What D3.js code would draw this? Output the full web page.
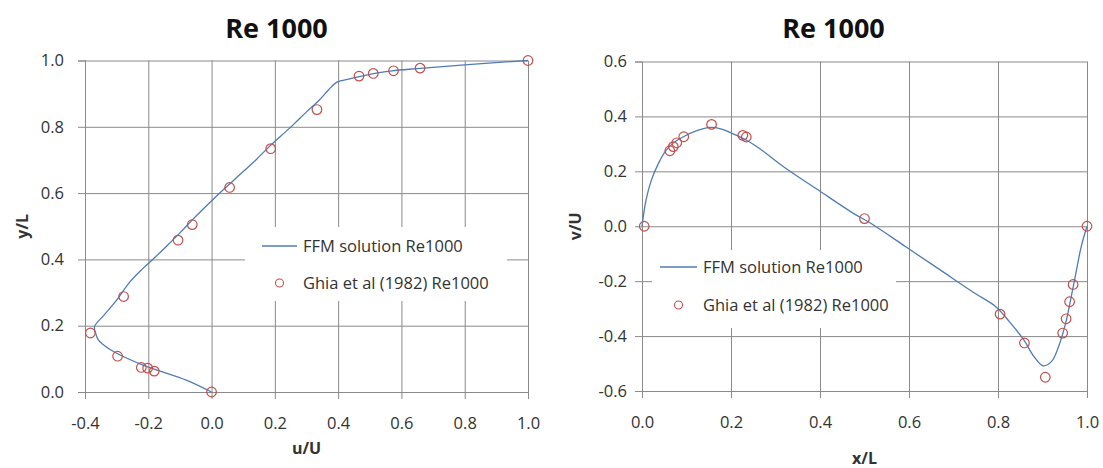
<!DOCTYPE html>
<html><head><meta charset="utf-8">
<script src="https://cdn.jsdelivr.net/npm/d3@7"></script>
<style>
html,body{margin:0;padding:0;background:#fff;}
svg{display:block;font-family:"Open Sans",sans-serif;}
</style></head>
<body>
<svg id="chart" width="1103" height="468"></svg>
<script>
// ---- Data ----
const chartTitles = ["Re 1000", "Re 1000"];
const legendLabels = ["FFM solution Re1000", "Ghia et al (1982) Re1000"];
const leftAxisTitles = ["u/U", "y/L"];
const rightAxisTitles = ["x/L", "v/U"];

const leftXTicks = [-0.4, -0.2, 0.0, 0.2, 0.4, 0.6, 0.8, 1.0];
const leftYTicks = [0.0, 0.2, 0.4, 0.6, 0.8, 1.0];
const rightXTicks = [0.0, 0.2, 0.4, 0.6, 0.8, 1.0];
const rightYTicks = [-0.6, -0.4, -0.2, 0.0, 0.2, 0.4, 0.6];

// Left: u/U (x) vs y/L (y) along vertical centerline
const leftFFM = [
  [0.0, 0.0], [-0.08, 0.036], [-0.172, 0.066], [-0.217, 0.081], [-0.31, 0.122],
  [-0.341, 0.142], [-0.358, 0.157], [-0.366, 0.177], [-0.37, 0.197],
  [-0.34, 0.232], [-0.30, 0.277], [-0.26, 0.33], [-0.22, 0.37], [-0.18, 0.405],
  [-0.14, 0.442], [-0.10, 0.48], [-0.06, 0.52], [-0.02, 0.558], [0.02, 0.595],
  [0.06, 0.63], [0.10, 0.665], [0.14, 0.70], [0.18, 0.738], [0.22, 0.773],
  [0.26, 0.808], [0.30, 0.845], [0.34, 0.88], [0.37, 0.912], [0.395, 0.934],
  [0.43, 0.943], [0.47, 0.952], [0.52, 0.962], [0.57, 0.969], [0.66, 0.976],
  [0.80, 0.987], [1.0, 1.0]
];
const leftGhia = [
  [1.0, 1.0], [0.659, 0.977], [0.575, 0.969], [0.511, 0.961], [0.466, 0.953],
  [0.333, 0.852], [0.187, 0.734], [0.057, 0.617], [-0.061, 0.505], [-0.106, 0.458],
  [-0.278, 0.288], [-0.383, 0.178], [-0.297, 0.108], [-0.222, 0.074],
  [-0.202, 0.072], [-0.181, 0.063], [0.0, 0.0]
];

// Right: x/L (x) vs v/U (y) along horizontal centerline
const rightFFM = [
  [0.0, 0.0], [0.009, 0.095], [0.021, 0.168], [0.037, 0.229], [0.052, 0.272],
  [0.068, 0.300], [0.091, 0.324], [0.123, 0.348], [0.154, 0.360], [0.177, 0.355],
  [0.200, 0.340], [0.232, 0.316], [0.260, 0.288], [0.318, 0.217], [0.396, 0.132],
  [0.475, 0.047], [0.514, 0.011], [0.592, -0.074], [0.670, -0.159], [0.748, -0.244],
  [0.795, -0.293], [0.826, -0.348], [0.858, -0.414], [0.881, -0.475], [0.901, -0.508],
  [0.920, -0.493], [0.936, -0.439], [0.952, -0.353], [0.963, -0.269], [0.975, -0.171],
  [0.987, -0.074], [1.0, 0.0]
];
const rightGhia = [
  [0.005, 0.0], [0.0625, 0.275], [0.0703, 0.290], [0.0781, 0.304], [0.0938, 0.326],
  [0.1563, 0.371], [0.2266, 0.331], [0.2344, 0.325], [0.5, 0.028], [0.8047, -0.32],
  [0.8594, -0.425], [0.9063, -0.55], [0.9453, -0.389], [0.9531, -0.337],
  [0.9609, -0.275], [0.9688, -0.212], [1.0, 0.0]
];

// ---- Drawing ----
const svg = d3.select("#chart");
const lineColor = "#4f7db3";
const markColor = "#c0504d";
const gridColor = "#8a8a8a";
const textColor = "#333";
const fmt = d => d.toFixed(1);

function panel(cfg) {
  const g = svg.append("g");
  const x = d3.scaleLinear().domain(cfg.xDomain).range([cfg.x0, cfg.x1]);
  const y = d3.scaleLinear().domain(cfg.yDomain).range([cfg.y0, cfg.y1]);
  const H = cfg.y0 - cfg.y1, W = cfg.x1 - cfg.x0;

  // grid (x)
  const gx = g.append("g").attr("transform", `translate(0,${cfg.y0})`)
    .call(d3.axisBottom(x).tickValues(cfg.xTicks).tickSize(-H).tickFormat(""));
  gx.select(".domain").remove();
  gx.selectAll("line").attr("stroke", gridColor).attr("stroke-width", 1);
  // ticks + labels (x)
  const lx = g.append("g").attr("transform", `translate(0,${cfg.y0})`)
    .call(d3.axisBottom(x).tickValues(cfg.xTicks).tickSize(7).tickPadding(18).tickFormat(fmt));
  lx.select(".domain").attr("stroke", gridColor);
  lx.selectAll("line").attr("stroke", gridColor);
  lx.selectAll("text").attr("fill", textColor).style("font-size", "16.5px")
    .style("font-family", "'Open Sans',sans-serif");

  // grid (y)
  const gy = g.append("g").attr("transform", `translate(${cfg.x0},0)`)
    .call(d3.axisLeft(y).tickValues(cfg.yTicks).tickSize(-W).tickFormat(""));
  gy.select(".domain").remove();
  gy.selectAll("line").attr("stroke", gridColor).attr("stroke-width", 1);
  const ly = g.append("g").attr("transform", `translate(${cfg.x0},0)`)
    .call(d3.axisLeft(y).tickValues(cfg.yTicks).tickSize(7).tickPadding(cfg.yPad).tickFormat(fmt));
  ly.select(".domain").attr("stroke", gridColor);
  ly.selectAll("line").attr("stroke", gridColor);
  ly.selectAll("text").attr("fill", textColor).style("font-size", "16.5px")
    .style("font-family", "'Open Sans',sans-serif");

  // title
  g.append("text").attr("x", (cfg.x0 + cfg.x1) / 2 + cfg.titleDx).attr("y", 38)
    .attr("text-anchor", "middle").attr("font-weight", "bold").attr("font-size", 27)
    .attr("fill", "#111").text(cfg.title);
  // axis titles
  g.append("text").attr("x", (cfg.x0 + cfg.x1) / 2).attr("y", cfg.xTitleY)
    .attr("text-anchor", "middle").attr("font-weight", "bold").attr("font-size", 16)
    .attr("fill", textColor).text(cfg.xTitle);
  g.append("text").attr("transform", `translate(${cfg.yTitleX},${(cfg.y0 + cfg.y1) / 2}) rotate(-90)`)
    .attr("text-anchor", "middle").attr("font-weight", "bold").attr("font-size", 16)
    .attr("fill", textColor).text(cfg.yTitle);

  // legend box (covers grid)
  const L = cfg.legend;
  g.append("rect").attr("x", L.x).attr("y", L.y).attr("width", L.w).attr("height", L.h)
    .attr("fill", "#fff");

  // line
  const line = d3.line().x(d => x(d[0])).y(d => y(d[1])).curve(d3.curveCatmullRom.alpha(0.5));
  g.append("path").datum(cfg.ffm).attr("d", line).attr("fill", "none")
    .attr("stroke", lineColor).attr("stroke-width", 1.3);
  // markers
  g.append("g").selectAll("circle").data(cfg.ghia).join("circle")
    .attr("cx", d => x(d[0])).attr("cy", d => y(d[1])).attr("r", 4.8)
    .attr("fill", "none").attr("stroke", markColor).attr("stroke-width", 1.2);

  // legend content
  g.append("line").attr("x1", L.lx1).attr("x2", L.lx2).attr("y1", L.r1).attr("y2", L.r1)
    .attr("stroke", lineColor).attr("stroke-width", 1.3);
  g.append("circle").attr("cx", (L.lx1 + L.lx2) / 2).attr("cy", L.r2).attr("r", 4)
    .attr("fill", "none").attr("stroke", markColor).attr("stroke-width", 1.1);
  [L.r1, L.r2].forEach((ry, i) => {
    g.append("text").attr("x", L.tx).attr("y", ry).attr("dy", "0.35em")
      .attr("font-size", 16.5).attr("fill", textColor).text(legendLabels[i]);
  });
}

panel({
  xDomain: [-0.4, 1.0], yDomain: [0, 1], x0: 85, x1: 528, y0: 392, y1: 60.5,
  xTicks: leftXTicks, yTicks: leftYTicks, yPad: 14, title: chartTitles[0], titleDx: -30,
  xTitle: leftAxisTitles[0], yTitle: leftAxisTitles[1], xTitleY: 454, yTitleX: 28,
  ffm: leftFFM, ghia: leftGhia,
  legend: {x: 245, y: 227, w: 262, h: 74, lx1: 262, lx2: 297, tx: 303, r1: 246, r2: 283}
});
panel({
  xDomain: [0, 1], yDomain: [-0.6, 0.6], x0: 642, x1: 1087, y0: 391, y1: 61.5,
  xTicks: rightXTicks, yTicks: rightYTicks, yPad: 8, title: chartTitles[1], titleDx: -31,
  xTitle: rightAxisTitles[0], yTitle: rightAxisTitles[1], xTitleY: 464, yTitleX: 581,
  ffm: rightFFM, ghia: rightGhia,
  legend: {x: 652, y: 250, w: 244, h: 78, lx1: 660, lx2: 697, tx: 703, r1: 267, r2: 305}
});
</script>
</body></html>
